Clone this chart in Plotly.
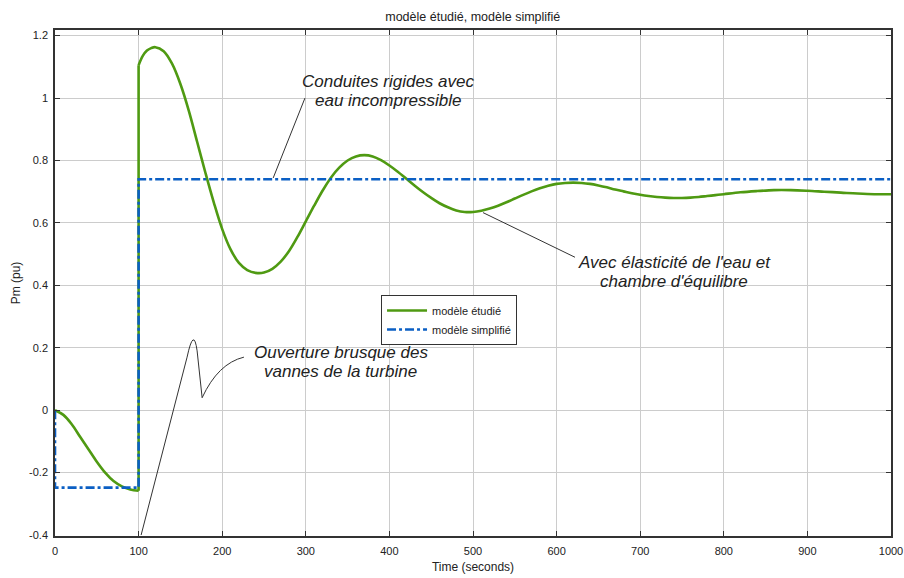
import plotly.graph_objects as go

# Green series: "modèle étudié"; the step at t=100 is between index 10 and 11
t_etudie = [0, 10, 20, 30, 40, 50, 60, 70, 80, 90, 100,
            100, 105, 110, 115, 120, 130, 140, 150, 160, 170, 180, 190, 200, 210, 220, 230, 240,
            250, 260, 270, 280, 290, 300, 310, 320, 330, 340, 350, 360, 370, 380, 390, 400, 410,
            420, 430, 440, 450, 460, 470, 480, 490, 500, 510, 520, 530, 540, 550, 560, 570, 580,
            590, 600, 610, 620, 630, 640, 650, 660, 670, 680, 690, 700, 710, 720, 730, 740, 750,
            760, 770, 780, 790, 800, 820, 840, 860, 880, 900, 920, 940, 960, 980, 1000]
p_etudie = [0.0, -0.015, -0.045, -0.085, -0.125, -0.165, -0.2, -0.227, -0.244, -0.254, -0.258,
            1.105, 1.135, 1.152, 1.16, 1.163, 1.15, 1.11, 1.045, 0.96, 0.86, 0.76, 0.665, 0.58,
            0.515, 0.472, 0.449, 0.44, 0.441, 0.453, 0.476, 0.51, 0.555, 0.605, 0.655, 0.703,
            0.745, 0.777, 0.8, 0.813, 0.817, 0.813, 0.801, 0.784, 0.764, 0.742, 0.72, 0.699,
            0.68, 0.663, 0.65, 0.64, 0.635, 0.635, 0.639, 0.646, 0.655, 0.666, 0.678, 0.69,
            0.701, 0.711, 0.719, 0.725, 0.728, 0.729, 0.728, 0.725, 0.72, 0.714, 0.707, 0.701,
            0.695, 0.69, 0.686, 0.683, 0.681, 0.68, 0.68, 0.681, 0.683, 0.686, 0.689, 0.692,
            0.698, 0.702, 0.705, 0.705, 0.703, 0.7, 0.697, 0.694, 0.692, 0.692]
step_index = 11

# Blue series: "modèle simplifié"
t_simple = [0, 0, 100, 100, 1000]
p_simple = [0.0, -0.248, -0.248, 0.74, 0.74]

x_ticks = [0, 100, 200, 300, 400, 500, 600, 700, 800, 900, 1000]
y_ticks = [-0.4, -0.2, 0, 0.2, 0.4, 0.6, 0.8, 1, 1.2]
y_ticklabels = ["-0.4", "-0.2", "0", "0.2", "0.4", "0.6", "0.8", "1", "1.2"]

FONT = "Liberation Sans, Arial, sans-serif"
GREEN = "#4f9a12"
BLUE = "#0b5fc4"

fig = go.Figure()
green_line = dict(color=GREEN, width=2.6, shape="spline", smoothing=1.0)
fig.add_trace(go.Scatter(x=t_etudie[:step_index], y=p_etudie[:step_index], mode="lines",
                         name="modèle étudié", legendgroup="g", line=green_line))
fig.add_trace(go.Scatter(x=t_etudie[step_index - 1:step_index + 1],
                         y=p_etudie[step_index - 1:step_index + 1], mode="lines",
                         legendgroup="g", showlegend=False, line=dict(color=GREEN, width=2.6)))
fig.add_trace(go.Scatter(x=t_etudie[step_index:], y=p_etudie[step_index:], mode="lines",
                         legendgroup="g", showlegend=False, line=green_line))
fig.add_trace(go.Scatter(x=t_simple, y=p_simple, mode="lines", name="modèle simplifié",
                         line=dict(color=BLUE, width=2.6, dash="dashdot")))

# callout lines
fig.add_shape(type="path", xref="x", yref="y",
              path="M 103,-0.40 L 158,0.17 Q 166,0.27 170,0.19 L 176,0.04 Q 195,0.15 226,0.17",
              line=dict(color="#333333", width=1))
fig.add_shape(type="line", xref="x", yref="y", x0=261, y0=0.744, x1=299, y1=1.0,
              line=dict(color="#333333", width=1))
fig.add_shape(type="line", xref="x", yref="y", x0=512, y0=0.633, x1=622, y1=0.49,
              line=dict(color="#333333", width=1))

ann_font = dict(family=FONT, size=17, color="#222222")
callout_texts = [
    ("Conduites rigides avec", 398, 1.053),
    ("eau incompressible", 398, 0.992),
    ("Avec élasticité de l'eau et", 741, 0.474),
    ("chambre d'équilibre", 741, 0.413),
    ("Ouverture brusque des", 342, 0.184),
    ("vannes de la turbine", 342, 0.123),
]
for txt, ax_, ay_ in callout_texts:
    fig.add_annotation(x=ax_, y=ay_, xref="x", yref="y", showarrow=False, font=ann_font,
                       text="<i>" + txt + "</i>", align="center", borderpad=0,
                       xanchor="center", yanchor="middle")

fig.update_layout(
    width=904, height=578,
    margin=dict(l=55, r=13, t=30, b=42, autoexpand=False),
    paper_bgcolor="white", plot_bgcolor="white",
    font=dict(family=FONT, size=11, color="#222222"),
    title=dict(text="modèle étudié, modèle simplifié", x=0.523, xanchor="center",
               y=1 - 17 / 578, yanchor="middle", font=dict(size=12.5), automargin=False),
    showlegend=True,
    legend=dict(x=0.39, y=0.427, xanchor="left", yanchor="middle", bgcolor="white",
                bordercolor="#333333", borderwidth=1, font=dict(size=11),
                tracegroupgap=0, itemwidth=40),
)
fig.update_xaxes(range=[0, 1000], tickvals=x_ticks, showgrid=True, gridcolor="#cccccc",
                 showline=True, linecolor="#333333", linewidth=1.5, mirror="ticks",
                 ticks="inside", ticklen=5, tickcolor="#333333", zeroline=False, automargin=False,
                 ticklabelstandoff=4,
                 title=dict(text="Time (seconds)", standoff=7, font=dict(size=12)))
fig.update_yaxes(range=[-0.403, 1.218], tickvals=y_ticks, ticktext=y_ticklabels, showgrid=True,
                 gridcolor="#cccccc", showline=True, linecolor="#333333", linewidth=1.5,
                 mirror="ticks", ticks="inside", ticklen=5, tickcolor="#333333", zeroline=False,
                 automargin=False, ticklabelstandoff=3,
                 title=dict(text="Pm (pu)", standoff=6, font=dict(size=12)))

fig.write_html("out.html", config={"displayModeBar": False},
               post_script="document.body.style.margin='0';document.body.style.overflow='hidden';")
